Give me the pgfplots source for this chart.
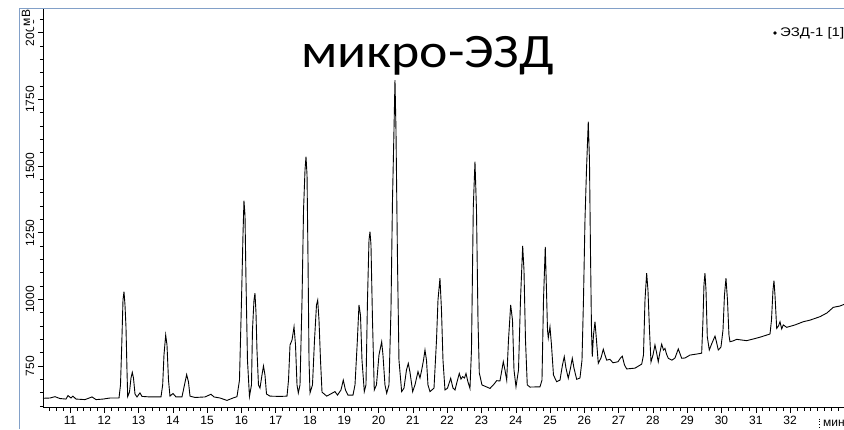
\documentclass[border=0pt]{standalone}
\usepackage{fontspec}
\setmainfont{Liberation Sans}
\newfontfamily\titlefont{Carlito}
\usepackage{pgfplots}
\pgfplotsset{compat=1.18}
\definecolor{framebl}{RGB}{130,160,200}
\begin{document}
\begin{tikzpicture}
\begin{axis}[
  at={(0pt,0pt)}, anchor=south west,
  scale only axis, width=801pt, height=399.5pt,
  xmin=10.213, xmax=33.573, ymin=594.4, ymax=2092.5,
  axis x line=bottom, axis y line=left,
  axis line style={-, black, line width=0.6pt},
  xtick={11,12,...,32}, ytick={750,1000,1250,1500,1750,2000},
  minor xtick={10.4,10.6,...,33.4}, minor ytick={600,650,...,2050},
  tick align=outside, major tick length=5pt, minor tick length=3pt,
  tick style={black, line width=0.5pt},
  every tick label/.append style={font=\fontsize{12}{14}\selectfont},
  /pgf/number format/assume math mode=true,
  /pgf/number format/1000 sep={},
  yticklabel style={rotate=90, anchor=south, inner sep=3.5pt},
]
\addplot[black, line width=0.9pt] coordinates {
(10.213,629) (10.417,630) (10.563,635) (10.708,628) (10.883,626) (10.942,639) (11.030,630) (11.087,637) (11.175,626) (11.437,624) (11.642,634) (11.758,624) (11.962,626) (12.167,630) (12.430,630)
(12.473,679) (12.508,822) (12.546,998) (12.575,1029) (12.604,979) (12.633,897) (12.662,735) (12.683,635)
(12.735,652) (12.779,705) (12.817,726) (12.852,705) (12.896,645) (12.954,634) (13.041,649) (13.100,636) (13.333,634) (13.654,634)
(13.703,679) (13.741,791) (13.791,866) (13.829,829) (13.873,697) (13.916,637) (14.004,647) (14.091,634) (14.266,634)
(14.339,679) (14.403,718) (14.456,690) (14.500,637) (14.645,632) (14.937,634) (15.112,644) (15.200,634) (15.375,630) (15.579,621) (15.754,630) (15.870,635)
(15.943,697) (16.002,997) (16.045,1241) (16.074,1370) (16.104,1316) (16.133,1072) (16.176,772) (16.234,636)
(16.293,679) (16.322,885) (16.366,997) (16.395,1023) (16.424,952) (16.453,810) (16.497,679) (16.541,667)
(16.599,716) (16.643,750) (16.687,716) (16.731,645) (16.833,637) (17.125,636) (17.329,637)
(17.373,697) (17.417,829) (17.475,847) (17.534,897) (17.577,829) (17.621,679) (17.659,649)
(17.708,679) (17.767,997) (17.811,1335) (17.854,1485) (17.883,1535) (17.913,1466) (17.942,1147) (17.971,772) (18.000,649)
(18.072,679) (18.131,847) (18.189,979) (18.224,997) (18.262,922) (18.306,772) (18.350,652) (18.487,637)
(18.728,654) (18.801,641) (18.903,660) (18.970,697) (19.034,660) (19.107,641) (19.253,641)
(19.312,679) (19.379,841) (19.428,979) (19.472,941) (19.516,772) (19.583,654)
(19.632,679) (19.676,997) (19.720,1222) (19.749,1254) (19.778,1204) (19.822,922) (19.874,660)
(19.938,679) (20.011,791) (20.090,841) (20.128,791) (20.186,679) (20.236,648)
(20.303,679) (20.361,960) (20.405,1372) (20.449,1635) (20.478,1822) (20.507,1635) (20.551,1147) (20.594,772) (20.673,654)
(20.740,667) (20.813,735) (20.866,760) (20.915,727) (20.994,654) (21.061,679) (21.149,729) (21.207,705) (21.257,735) (21.310,772) (21.353,810) (21.397,772) (21.440,679) (21.499,654)
(21.616,667) (21.689,847) (21.732,997) (21.790,1079) (21.834,960) (21.878,772) (21.936,660)
(22.010,667) (22.103,704) (22.170,667) (22.228,660) (22.301,697) (22.353,722) (22.403,701) (22.452,710) (22.505,705) (22.549,722) (22.607,690) (22.665,666)
(22.709,810) (22.762,1347) (22.811,1516) (22.855,1335) (22.899,922) (22.937,724) (23.015,679) (23.249,666)
(23.366,682) (23.444,695) (23.540,694) (23.637,766) (23.686,735) (23.736,697)
(23.788,847) (23.852,979) (23.905,922) (23.949,735) (24.007,672)
(24.080,735) (24.138,997) (24.202,1200) (24.240,1110) (24.284,847) (24.336,679) (24.415,671) (24.707,672)
(24.765,697) (24.809,997) (24.861,1197) (24.896,1035) (24.926,885) (24.949,855) (24.998,897) (25.042,829) (25.100,716) (25.193,691)
(25.290,697) (25.363,754) (25.415,785) (25.465,742) (25.532,704) (25.596,742) (25.649,779) (25.698,742) (25.777,700) (25.873,705)
(25.932,772) (25.975,997) (26.019,1297) (26.063,1485) (26.115,1666) (26.150,1522) (26.179,1185) (26.209,885) (26.232,785)
(26.267,866) (26.311,916) (26.354,847) (26.407,760) (26.486,780) (26.553,813) (26.602,791) (26.652,772) (26.748,775) (26.836,762) (26.981,766)
(27.054,780) (27.107,787) (27.171,754) (27.235,739) (27.477,742) (27.673,757)
(27.725,791) (27.769,997) (27.818,1098) (27.856,1035) (27.900,885) (27.944,765)
(28.002,791) (28.060,829) (28.104,802) (28.156,766) (28.206,802) (28.256,832) (28.308,810) (28.352,816) (28.396,795) (28.448,779) (28.556,772) (28.644,780)
(28.740,814) (28.839,779) (28.935,780) (29.081,791) (29.285,795) (29.422,798)
(29.460,922) (29.489,1054) (29.518,1098) (29.548,1035) (29.586,860) (29.644,810)
(29.723,836) (29.811,862) (29.854,840) (29.907,810) (29.985,821)
(30.044,885) (30.087,1016) (30.131,1079) (30.175,997) (30.218,866) (30.247,841)
(30.335,844) (30.443,850) (30.735,845) (30.977,853) (31.123,858) (31.415,870)
(31.458,922) (31.502,1035) (31.531,1070) (31.560,1016) (31.610,891) (31.662,900) (31.706,916) (31.756,889) (31.802,904) (31.902,895)
(32.143,904) (32.385,916) (32.581,922) (32.873,935) (33.077,949) (33.260,970) (33.456,975) (33.573,981)
};
\end{axis}
\node[anchor=base, inner sep=0pt, xscale=1.12, font=\titlefont\fontsize{48}{52}\selectfont] at (384.5pt,339.5pt) {микро-ЭЗД};
\fill (732pt,374.5pt) circle (1.9pt);
\node[anchor=west, inner sep=0pt, xscale=1.2, font=\fontsize{12.5}{14}\selectfont] at (737pt,374.5pt) {ЭЗД-1 [1]};
\draw[dotted, line width=0.8pt] (776pt,-11pt) -- (776pt,-21pt);
\node[anchor=west, inner sep=0pt, font=\fontsize{12}{14}\selectfont] at (780pt,-15.5pt) {мин};
\node[rotate=90, fill=white, inner sep=3pt, font=\fontsize{12}{14}\selectfont] at (-17pt,389.5pt) {мВ};
\draw[framebl, line width=0.8pt] (-24pt,-21.5pt) -- (-24pt,399.5pt) -- (801pt,399.5pt);
\pgfresetboundingbox
\useasboundingbox (-43pt,-21.5pt) rectangle (801pt,407.5pt);
\end{tikzpicture}
\end{document}
